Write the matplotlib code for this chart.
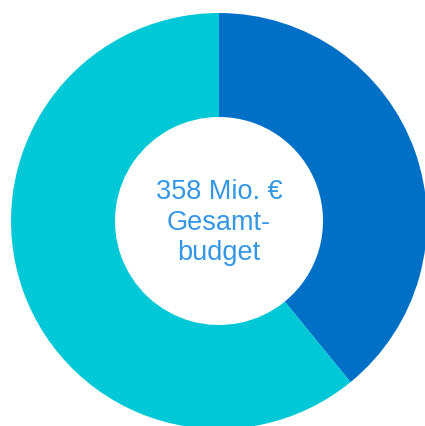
import matplotlib
matplotlib.use("Agg")
import matplotlib.pyplot as plt

# budget split in Mio. €
segments = ["Anteil A", "Anteil B"]
values = [140, 218]
colors = ["#006fc6", "#00c8d6"]
center_lines = ["358 Mio. €", "Gesamt-", "budget"]

W, H = 425, 426
CX, CY, R = 219, 221, 208   # donut centre and radius in pixels

fig = plt.figure(figsize=(W / 100, H / 100), dpi=100)
ax = fig.add_axes([0, 0, 1, 1])
ax.pie(values, colors=colors, startangle=90, counterclock=False, radius=1,
       wedgeprops=dict(width=0.5, linewidth=0))
ax.set_xlim(-CX / R, (W - CX) / R)
ax.set_ylim(-(H - CY) / R, CY / R)
ax.set_aspect("auto")
ax.axis("off")

# one line at a time, ~30 px apart
for i, line in enumerate(center_lines):
    y_px = 192 + 30.5 * i
    ax.text(0, (CY - y_px) / R, line, ha="center", va="center",
            fontsize=19.5, family=["Liberation Sans", "DejaVu Sans"],
            color="#3497e4")

fig.savefig("out.png", dpi=100)
